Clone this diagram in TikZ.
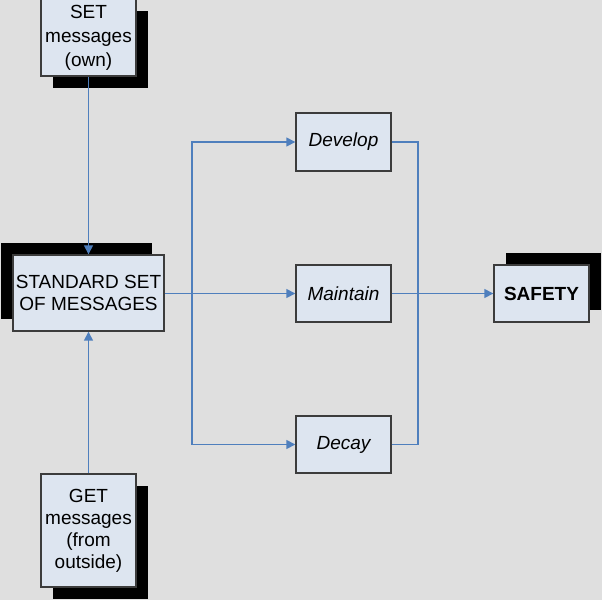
\documentclass[tikz,border=0pt]{standalone}
\usepackage{fontspec}
\setmainfont{Liberation Sans}
\usetikzlibrary{shadows,arrows.meta}
\definecolor{bg}{RGB}{223,223,223}
\definecolor{boxfill}{RGB}{221,229,240}
\definecolor{boxline}{RGB}{60,60,60}
\definecolor{conncol}{RGB}{79,127,189}
\begin{document}
\begin{tikzpicture}[x=1pt,y=-1pt,
  box/.style={draw=boxline,line width=1.4pt,fill=boxfill,align=center,
    inner sep=0pt,minimum width=95pt,minimum height=57pt,
    font=\fontsize{19}{22}\selectfont},
  shdr/.style={drop shadow={shadow xshift=12pt,shadow yshift=-12pt,fill=black,opacity=1}},
  shul/.style={drop shadow={shadow xshift=-12pt,shadow yshift=12pt,fill=black,opacity=1}},
  shur/.style={drop shadow={shadow xshift=12pt,shadow yshift=12pt,fill=black,opacity=1}},
  conn/.style={draw=conncol,line width=1.5pt},
  tip/.style={-{Triangle[length=9pt,width=9pt]}}
]
\fill[bg] (0,0) rectangle (602,600);
\useasboundingbox (0,0) rectangle (602,600);

\node[box,shdr,minimum height=77pt,font=\fontsize{19}{24}\selectfont] (set) at (88.5,37.5) {SET\\messages\\(own)};
\node[box,shul,minimum width=151pt,minimum height=76pt] (std) at (88.5,293) {STANDARD SET\\OF MESSAGES};
\node[box,shdr,minimum height=113pt] (get) at (88.5,530.5) {GET\\messages\\(from\\outside)};
\node[box,minimum height=58pt,font=\fontsize{19}{22}\selectfont\itshape] (develop) at (343.5,142) {Develop};
\node[box,font=\fontsize{19}{22}\selectfont\itshape] (maintain) at (343.5,293.5) {Maintain};
\node[box,font=\fontsize{19}{22}\selectfont\itshape] (decay) at (343.5,444.5) {Decay};
\node[box,shur,font=\fontsize{19}{22}\selectfont\bfseries] (safety) at (541.5,293.5) {SAFETY};

\coordinate (jl) at (192,293);
\coordinate (jr) at (418,293);

\draw[conn,tip] (set) -- (std);
\draw[conn,tip] (get) -- (std);
\draw[conn,tip] (std.east |- maintain) -- (maintain);
\draw[conn,tip] (jl) |- (develop);
\draw[conn,tip] (jl) |- (decay);
\draw[conn] (develop) -| (jr);
\draw[conn] (decay) -| (jr);
\draw[conn,tip] (maintain) -- (safety);
\end{tikzpicture}
\end{document}
